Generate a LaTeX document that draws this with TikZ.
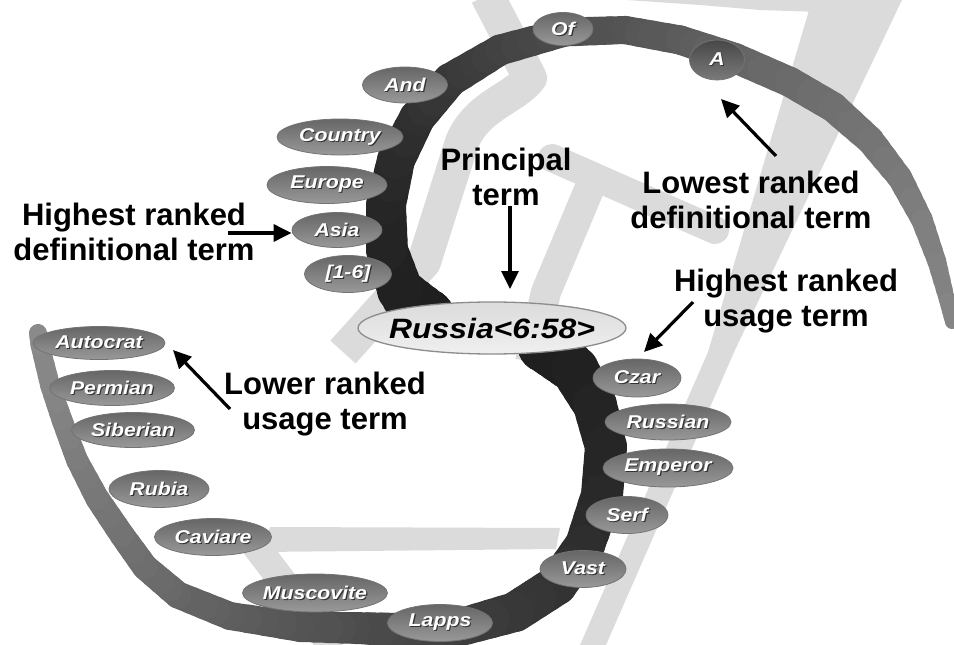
\documentclass[tikz,border=0pt]{standalone}
\usepackage{fontspec}
\setmainfont{Liberation Sans}
\usetikzlibrary{shapes.geometric,arrows.meta,calc}

\definecolor{wm}{gray}{0.86}

% white italic term text with a dark drop shadow
\newcommand\termtxt[1]{\makebox[0pt]{\scalebox{1.15}[1]{\fontsize{18.5}{18.5}\selectfont\bfseries\itshape
  \rlap{\hspace{1pt}\raisebox{-1pt}{\color{black!80}#1}}{\color{white}#1}}}}
% principal term text
\newcommand\princtxt[1]{\makebox[0pt]{\scalebox{1.14}[1]{\fontsize{28}{28}\selectfont\bfseries\itshape #1}}}

\begin{document}
\begin{tikzpicture}[x=1pt,y=-1pt,
  term/.style={ellipse, inner sep=0pt, draw=black!55, line width=0.8pt,
    top color=black!60, bottom color=black!40},
  princ/.style={ellipse, inner sep=0pt, draw=black!45, line width=1.3pt,
    top color=black!14, bottom color=black!6},
  lbl/.style={align=center, inner sep=0pt, font=\fontsize{31}{35}\selectfont\bfseries},
  arr/.style={-{Triangle[length=18pt,width=17pt]}, line width=3.2pt},
  wmk/.style={wm, line cap=butt, line join=round}]

\useasboundingbox (0,0) rectangle (954,645);

% ---- light watermark strokes in the background ----
\draw[wmk, line width=34pt] (487,-5) -- (530,78) .. controls (512,100) and (478,105) .. (462,142)
  -- (424,262) -- (343,352);
\draw[wmk, line width=28pt, line cap=round] (552,158) -- (715,230);
\draw[wmk, line width=30pt] (593,180) -- (546,292) -- (530,362);
\fill[wm] (812,0) -- (902,0) -- (735,350) -- (606,645) -- (580,645) -- (708,352) -- cycle;
\fill[wm] (627,0) -- (900,0) -- (880,14) -- (760,10) -- (700,5) -- cycle;
\fill[wm] (270,527) -- (560,528) -- (556,549) -- (262,552) -- cycle;
\draw[wmk, line width=28pt] (255,545) -- (335,650);

% ---- tapering bands: each step interpolates position, width and shade ----
\foreach \x/\y/\w/\g [remember=\x as \px (initially 425), remember=\y as \py (initially 318),
    remember=\w as \pw (initially 60), remember=\g as \pg (initially 89)] in
  {425/318/60/89, 400/290/46/88, 387/250/42/87, 386/205/40/86, 396/160/38/84,
   417/118/36/82, 450/80/34/79, 500/50/31/75, 565/32/29/71, 625/30/28/68,
   680/40/29/65, 735/58/30/62, 790/82/30/59, 833/107/30/57, 870/140/28/55,
   900/178/25/53, 922/220/22/51, 937/262/19/50, 947/300/16/49, 952/322/14/48}
  {\foreach \k in {1,...,4}{
     \pgfmathsetmacro\ta{(\k-1)/4}\pgfmathsetmacro\tb{\k/4}
     \pgfmathsetmacro\ww{\pw+(\w-\pw)*\tb}\pgfmathtruncatemacro\gg{\pg+(\g-\pg)*\tb}
     \draw[line width=\ww pt, black!\gg, line cap=round] ($(\px,\py)!\ta!(\x,\y)$) -- ($(\px,\py)!\tb!(\x,\y)$);}}

\foreach \x/\y/\w/\g [remember=\x as \px (initially 545), remember=\y as \py (initially 345),
    remember=\w as \pw (initially 55), remember=\g as \pg (initially 88)] in
  {545/345/55/88, 575/370/48/88, 595/405/44/87, 606/447/42/86, 602/495/42/85,
   585/545/40/83, 557/585/40/81, 515/612/40/79, 465/626/38/77, 410/630/34/74,
   355/628/32/71, 300/627/30/68, 230/616/28/64, 178/595/27/61, 145/567/26/58,
   122/535/25/56, 97/498/24/54, 77/460/22/52, 62/420/21/50, 50/385/20/48,
   40/345/19/47, 38/333/18/46}
  {\foreach \k in {1,...,4}{
     \pgfmathsetmacro\ta{(\k-1)/4}\pgfmathsetmacro\tb{\k/4}
     \pgfmathsetmacro\ww{\pw+(\w-\pw)*\tb}\pgfmathtruncatemacro\gg{\pg+(\g-\pg)*\tb}
     \draw[line width=\ww pt, black!\gg, line cap=round] ($(\px,\py)!\ta!(\x,\y)$) -- ($(\px,\py)!\tb!(\x,\y)$);}}

% ---- definitional terms ----
\node[term, minimum width=60pt, minimum height=33pt] (of) at (563,29) {\termtxt{Of}};
\node[term, minimum width=55pt, minimum height=40pt, top color=black!72, bottom color=black!52] (a) at (717,60) {\termtxt{A}};
\node[term, minimum width=85pt, minimum height=36pt] (and) at (405,85) {\termtxt{And}};
\node[term, minimum width=126pt, minimum height=36pt] (country) at (340,137) {\termtxt{Country}};
\node[term, minimum width=120pt, minimum height=37pt] (europe) at (327,185) {\termtxt{Europe}};
\node[term, minimum width=90pt, minimum height=35pt] (asia) at (337,230) {\termtxt{Asia}};
\node[term, minimum width=87pt, minimum height=37pt] (ref) at (348,274) {\termtxt{[1-6]}};

% ---- principal term ----
\node[princ, minimum width=268pt, minimum height=52pt] (russia) at (492,328) {\princtxt{Russia<6:58>}};

% ---- usage terms ----
\node[term, minimum width=88pt, minimum height=38pt] (czar) at (637,378) {\termtxt{Czar}};
\node[term, minimum width=126pt, minimum height=36pt] (russian) at (668,422) {\termtxt{Russian}};
\node[term, minimum width=130pt, minimum height=38pt] (emperor) at (668,468) {\termtxt{Emperor}};
\node[term, minimum width=82pt, minimum height=37pt] (serf) at (627,515) {\termtxt{Serf}};
\node[term, minimum width=86pt, minimum height=37pt] (vast) at (583,569) {\termtxt{Vast}};
\node[term, minimum width=105pt, minimum height=37pt] (lapps) at (440,623) {\termtxt{Lapps}};
\node[term, minimum width=145pt, minimum height=38pt] (muscovite) at (315,593) {\termtxt{Muscovite}};
\node[term, minimum width=117pt, minimum height=37pt] (caviare) at (213,537) {\termtxt{Caviare}};
\node[term, minimum width=100pt, minimum height=37pt] (rubia) at (159,489) {\termtxt{Rubia}};
\node[term, minimum width=123pt, minimum height=35pt] (siberian) at (133,430) {\termtxt{Siberian}};
\node[term, minimum width=125pt, minimum height=35pt] (permian) at (112,388) {\termtxt{Permian}};
\node[term, minimum width=132pt, minimum height=33pt] (autocrat) at (99,343) {\termtxt{Autocrat}};

% ---- annotations ----
\node[lbl] (hdef) at (134,232) {Highest ranked\\definitional term};
\node[lbl] (prin) at (506,177) {Principal\\term};
\node[lbl] (ldef) at (751,200) {Lowest ranked\\definitional term};
\node[lbl] (huse) at (786,301) {Highest ranked\\usage term};
\node[lbl] (luse) at (325,404) {Lower ranked\\usage term};

\coordinate (hdefT) at (228,233);
\coordinate (prinH) at (510,289);
\coordinate (ldefT) at (776,156);
\coordinate (ldefH) at (721,99);
\coordinate (huseT) at (693,302);
\coordinate (huseH) at (644,352);
\coordinate (luseT) at (230,409);
\coordinate (luseH) at (173,350);

\draw[arr] (hdefT) -- (hdefT -| asia.west);
\draw[arr] (prin.south -| prinH) -- (prinH);
\draw[arr] (ldefT) -- (ldefH);
\draw[arr] (huseT) -- (huseH);
\draw[arr] (luseT) -- (luseH);
\end{tikzpicture}
\end{document}
